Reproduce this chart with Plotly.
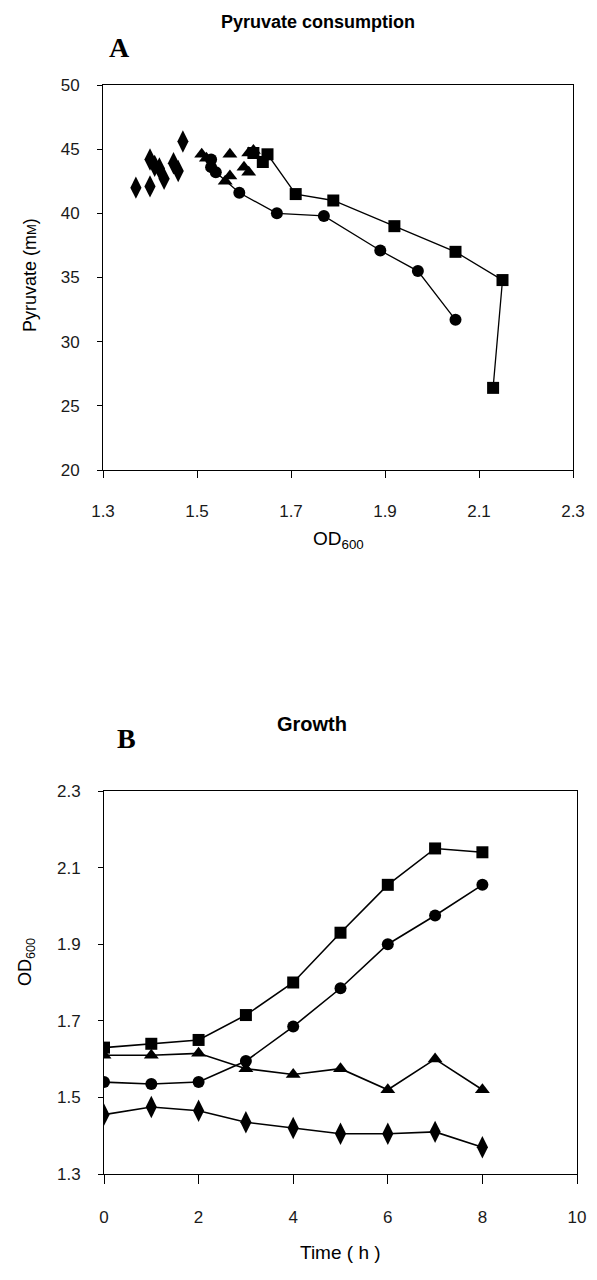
import plotly.graph_objects as go

# ---------------- Panel A: Pyruvate consumption (pyruvate vs OD600) ----------------
a_diamond_od = [1.37, 1.40, 1.40, 1.42, 1.43, 1.45, 1.46, 1.47, 1.41]
a_diamond_pyr = [42.0, 42.1, 44.2, 43.5, 42.7, 43.9, 43.3, 45.6, 43.7]

a_triangle_od = [1.51, 1.52, 1.57, 1.56, 1.57, 1.60, 1.61, 1.62, 1.61]
a_triangle_pyr = [44.6, 44.3, 44.6, 42.5, 42.9, 43.6, 43.2, 44.9, 44.7]

a_circle_od = [1.53, 1.53, 1.54, 1.59, 1.67, 1.77, 1.89, 1.97, 2.05]
a_circle_pyr = [44.2, 43.6, 43.2, 41.6, 40.0, 39.8, 37.1, 35.5, 31.7]

a_square_od = [1.62, 1.64, 1.65, 1.71, 1.79, 1.92, 2.05, 2.15, 2.13]
a_square_pyr = [44.7, 44.0, 44.6, 41.5, 41.0, 39.0, 37.0, 34.8, 26.4]

a_xticks = [1.3, 1.5, 1.7, 1.9, 2.1, 2.3]
a_yticks = [20, 25, 30, 35, 40, 45, 50]

# ---------------- Panel B: Growth (OD600 vs time) ----------------
b_time = [0, 1, 2, 3, 4, 5, 6, 7, 8]
b_square = [1.63, 1.64, 1.65, 1.715, 1.80, 1.93, 2.055, 2.15, 2.14]
b_circle = [1.54, 1.535, 1.54, 1.595, 1.685, 1.785, 1.90, 1.975, 2.055]
b_triangle = [1.61, 1.61, 1.615, 1.575, 1.56, 1.575, 1.52, 1.60, 1.52]
b_diamond = [1.455, 1.475, 1.465, 1.435, 1.42, 1.405, 1.405, 1.41, 1.37]

b_xticks = [0, 2, 4, 6, 8, 10]
b_yticks = [1.3, 1.5, 1.7, 1.9, 2.1, 2.3]

SANS = "Liberation Sans, Arial, sans-serif"
SERIF = "Liberation Serif, Times New Roman, serif"
BLACK = "#000000"

fig = go.Figure()

def mk(symbol, size):
    return dict(symbol=symbol, size=size, color=BLACK, line=dict(width=0))

# Panel A traces
fig.add_trace(go.Scatter(x=a_diamond_od, y=a_diamond_pyr, mode="markers",
                         marker=mk("diamond-tall", 16), xaxis="x", yaxis="y"))
fig.add_trace(go.Scatter(x=a_triangle_od, y=a_triangle_pyr, mode="markers",
                         marker=mk("triangle-up", 13), xaxis="x", yaxis="y"))
fig.add_trace(go.Scatter(x=a_circle_od, y=a_circle_pyr, mode="lines+markers",
                         line=dict(color=BLACK, width=1.3),
                         marker=mk("circle", 12), xaxis="x", yaxis="y"))
fig.add_trace(go.Scatter(x=a_square_od, y=a_square_pyr, mode="lines+markers",
                         line=dict(color=BLACK, width=1.3),
                         marker=mk("square", 12), xaxis="x", yaxis="y"))

# Panel B traces
fig.add_trace(go.Scatter(x=b_time, y=b_square, mode="lines+markers",
                         line=dict(color=BLACK, width=1.6),
                         marker=mk("square", 12), xaxis="x2", yaxis="y2"))
fig.add_trace(go.Scatter(x=b_time, y=b_circle, mode="lines+markers",
                         line=dict(color=BLACK, width=1.6),
                         marker=mk("circle", 12), xaxis="x2", yaxis="y2"))
fig.add_trace(go.Scatter(x=b_time, y=b_triangle, mode="lines+markers",
                         line=dict(color=BLACK, width=1.6),
                         marker=mk("triangle-up", 13), xaxis="x2", yaxis="y2"))
fig.add_trace(go.Scatter(x=b_time, y=b_diamond, mode="lines+markers",
                         line=dict(color=BLACK, width=1.6),
                         marker=mk("diamond-tall", 16), xaxis="x2", yaxis="y2"))

# page body has an 8px default margin; figure sized so the page is exactly 597x1280
OFF = 8
W, H = 597 - 2 * OFF, 1280 - 2 * OFF

def px_x(p):
    return (p - OFF) / W

def px_y(p):
    return 1 - (p - OFF) / H

tickfont = dict(family=SANS, size=17, color="#1a1a1a")

axis_common = dict(showgrid=False, zeroline=False, showline=True, linecolor=BLACK,
                   linewidth=1, mirror=True, ticks="outside", tickcolor=BLACK,
                   tickfont=tickfont, automargin=False)

fig.update_layout(
    width=W, height=H,
    margin=dict(l=0, r=0, t=0, b=0, autoexpand=False),
    paper_bgcolor="white", plot_bgcolor="white",
    showlegend=False,
    xaxis=dict(domain=[px_x(103), px_x(573)], range=[1.3, 2.3], tickvals=a_xticks,
               ticktext=[f"{v:.1f}" for v in a_xticks], ticklen=7,
               ticklabelstandoff=19, anchor="y", **axis_common),
    yaxis=dict(domain=[px_y(470), px_y(85)], range=[20, 50], tickvals=a_yticks,
               ticklen=5, ticklabelstandoff=14, anchor="x", **axis_common),
    xaxis2=dict(domain=[px_x(104), px_x(577)], range=[0, 10], tickvals=b_xticks,
                ticklen=9, ticklabelstandoff=19, anchor="y2", **axis_common),
    yaxis2=dict(domain=[px_y(1174), px_y(791)], range=[1.3, 2.3], tickvals=b_yticks,
                ticktext=[f"{v:.1f}" for v in b_yticks], ticklen=5,
                ticklabelstandoff=14, anchor="x2", **axis_common),
)

def ann(text, x, y, size, family=SANS, bold=False, angle=0):
    t = f"<b>{text}</b>" if bold else text
    fig.add_annotation(text=t, x=px_x(x), y=px_y(y), xref="paper", yref="paper",
                       showarrow=False, xanchor="center", yanchor="middle",
                       textangle=angle, font=dict(family=family, size=size, color=BLACK))

# Panel A texts
ann("Pyruvate consumption", 318, 22, 18, bold=True)
ann("A", 119, 48, 28, family=SERIF, bold=True)
ann("Pyruvate (m<span style='font-size:13px'>M</span>)", 30, 275, 18, angle=-90)
ann("OD<sub>600</sub>", 338, 540, 19)

# Panel B texts
ann("Growth", 312, 724, 20, bold=True)
ann("B", 126, 738, 28, family=SERIF, bold=True)
ann("OD<sub>600</sub>", 26, 962, 18, angle=-90)
ann("Time ( h )", 340, 1252, 19)

fig.write_html("out.html")
